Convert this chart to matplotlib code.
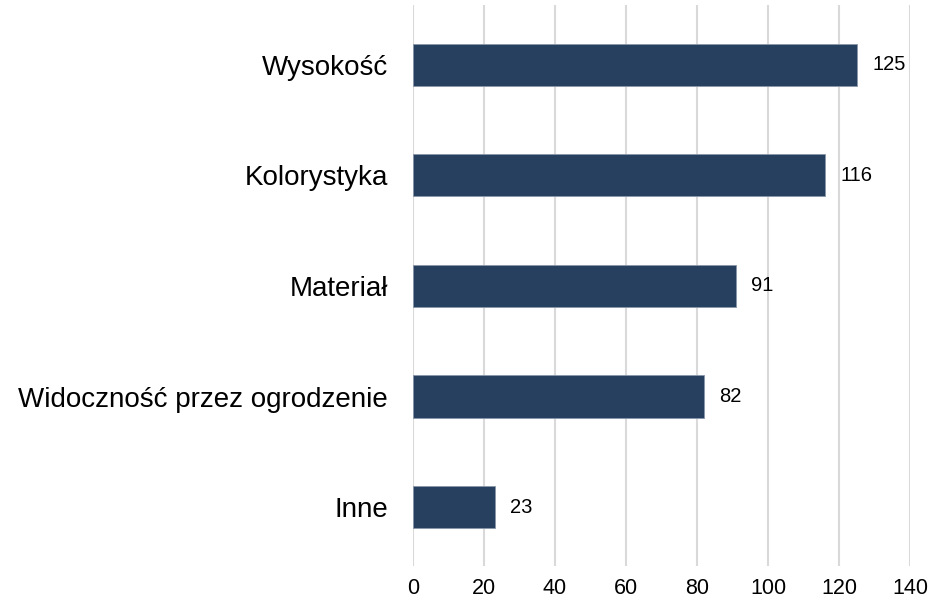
import matplotlib.pyplot as plt

plt.rcParams['font.family'] = ['Liberation Sans', 'DejaVu Sans']

kategorie = ['Inne', 'Widoczność przez ogrodzenie', 'Materiał', 'Kolorystyka', 'Wysokość']
wartosci = [23, 82, 91, 116, 125]
ticks_x = [0, 20, 40, 60, 80, 100, 120, 140]

fig = plt.figure(figsize=(9.43, 6), dpi=100)
ax = fig.add_axes([0.438, 0.057, 0.527, 0.935])

bary = ax.barh(kategorie, wartosci, height=0.38, color='#27405f', edgecolor='#8896a8', linewidth=0.6, zorder=3)

for bar, v in zip(bary, wartosci):
    ax.annotate(str(v), (bar.get_width(), bar.get_y() + bar.get_height() / 2),
                xytext=(11, 0), textcoords='offset points', va='center', ha='left', fontsize=14.5)

ax.set_xlim(0, 140)
ax.set_ylim(-0.53, 4.54)
ax.set_xticks(ticks_x)
ax.grid(axis='x', color='#d9d9d9', linewidth=1.5, zorder=0)
ax.grid(axis='y', visible=False)
for s in ax.spines.values():
    s.set_visible(False)
ax.tick_params(axis='x', length=0, pad=9, labelsize=15.5)
ax.tick_params(axis='y', length=0, pad=18, labelsize=20)

fig.savefig('out.png', dpi=100)
